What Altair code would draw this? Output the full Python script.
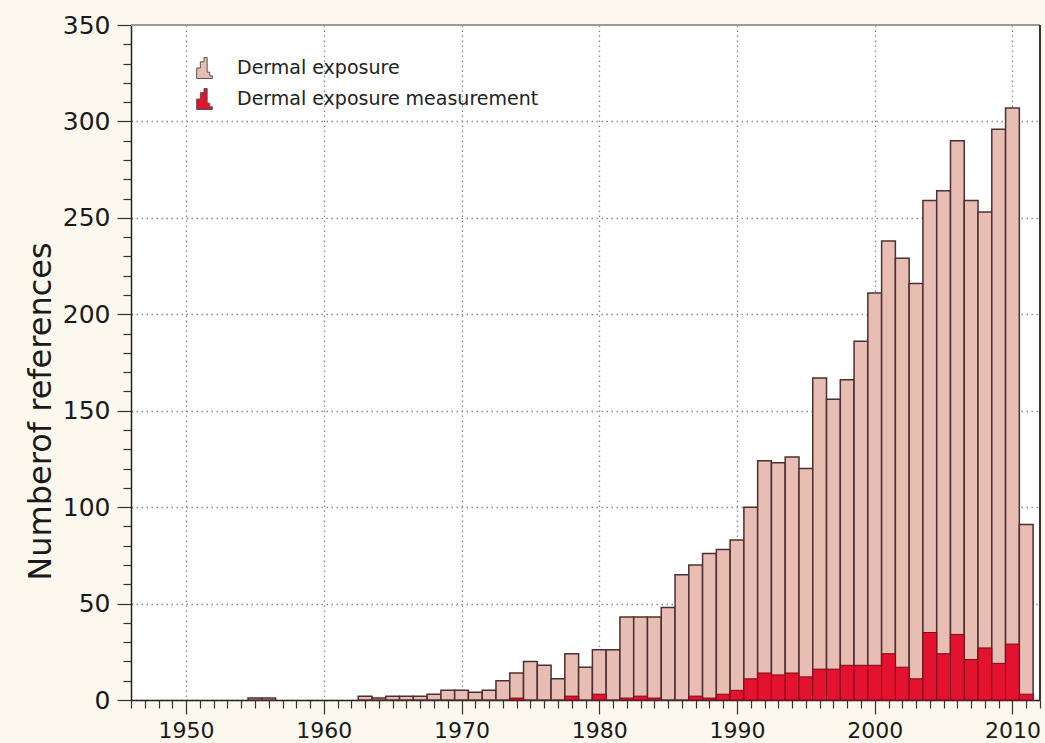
import altair as alt
import pandas as pd

years = list(range(1946, 2012))
total = [0, 0, 0, 0,
         0, 0, 0, 0, 0, 1, 1, 0, 0, 0,
         0, 0, 0, 2, 1, 2, 2, 2, 3, 5,
         5, 4, 5, 10, 14, 20, 18, 11, 24, 17,
         26, 26, 43, 43, 43, 48, 65, 70, 76, 78,
         83, 100, 124, 123, 126, 120, 167, 156, 166, 186,
         211, 238, 229, 216, 259, 264, 290, 259, 253, 296,
         307, 91]
measured = [0, 0, 0, 0,
            0, 0, 0, 0, 0, 0, 0, 0, 0, 0,
            0, 0, 0, 0, 0, 0, 0, 0, 0, 0,
            0, 0, 0, 0, 1, 0, 0, 0, 2, 0,
            3, 0, 1, 2, 1, 0, 0, 2, 1, 3,
            5, 11, 14, 13, 14, 12, 16, 16, 18, 18,
            18, 24, 17, 11, 35, 24, 34, 21, 27, 19,
            29, 3]
series_names = ["Dermal exposure", "Dermal exposure measurement"]
series_colors = ["#e8bdb4", "#e3122e"]
x_ticks = list(range(1946, 2013))
y_ticks = list(range(0, 351, 10))

df = pd.concat([
    pd.DataFrame({"year": years, "count": total, "series": series_names[0]}),
    pd.DataFrame({"year": years, "count": measured, "series": series_names[1]}),
], ignore_index=True)
df = df[df["count"] > 0]

FONT = "DejaVu Sans"

icon = "M-0.7,1V0H-0.35V-0.6H0V-1H0.3V0.4H0.55V0.75H0.8V1Z"

legend = alt.Legend(
    title=None, orient="none", legendX=62, legendY=32,
    symbolType=icon, symbolSize=440, symbolStrokeColor="#555", symbolStrokeWidth=1,
    labelFont=FONT, labelFontSize=19, labelColor="#222", labelOffset=22,
    labelLimit=500, rowPadding=5, symbolOpacity=1,
)

color_scale = alt.Scale(domain=series_names, range=series_colors)

x_axis = alt.Axis(
    values=x_ticks, tickCount=200, title=None, format="d",
    labelExpr="datum.value % 10 === 0 ? datum.label : ''",
    labelOverlap=False, labelFont=FONT, labelFontSize=22, labelColor="#1a1a1a",
    labelBaseline="alphabetic", labelPadding=23,
    tickSize={"condition": {"test": "datum.value % 10 === 0", "value": 14}, "value": 8},
    tickColor="#333", tickWidth=1.2, domainColor="#222", domainWidth=1.5,
    grid=True, gridColor="#8a8a8a", gridDash=[1.5, 3.5], gridWidth=1.3,
    gridOpacity={"condition": {"test": "datum.value % 10 === 0", "value": 1}, "value": 0},
)
y_axis = alt.Axis(
    values=y_ticks, tickCount=200, title="Numberof references",
    labelExpr="datum.value % 50 === 0 ? datum.label : ''",
    labelOverlap=False, labelFont=FONT, labelFontSize=25, labelColor="#1a1a1a",
    labelPadding=7,
    tickSize={"condition": {"test": "datum.value % 50 === 0", "value": 14}, "value": 8},
    tickColor="#333", tickWidth=1.2, domainColor="#222", domainWidth=1.5,
    grid=True, gridColor="#8a8a8a", gridDash=[1.5, 3.5], gridWidth=1.3,
    gridOpacity={"condition": {"test": "datum.value % 50 === 0 && datum.value < 350", "value": 1}, "value": 0},
    titleFont=FONT, titleFontSize=32, titleFontWeight="normal", titleColor="#1a1a1a",
    titleX=-91, titleY=386, titleAngle=270, titleAlign="center", titleBaseline="middle",
)

xs = alt.Scale(domain=[1946, 2012], nice=False, zero=False)
ys = alt.Scale(domain=[0, 350], nice=False)

base = alt.Chart(df).transform_calculate(
    x0="datum.year - 0.5", x1="datum.year + 0.5"
)

pink = base.transform_filter(alt.datum.series == series_names[0]).mark_bar(
    stroke="#4d2f2f", strokeWidth=1.5
).encode(
    x=alt.X("x0:Q", scale=xs, axis=x_axis),
    x2="x1:Q",
    y=alt.Y("count:Q", scale=ys, axis=y_axis, stack=None),
    y2=alt.datum(0),
    color=alt.Color("series:N", scale=color_scale, legend=legend),
)
red = base.transform_filter(alt.datum.series == series_names[1]).mark_bar(
    stroke="#7a0a1a", strokeWidth=1
).encode(
    x=alt.X("x0:Q", scale=xs, axis=x_axis),
    x2="x1:Q",
    y=alt.Y("count:Q", scale=ys, axis=y_axis, stack=None),
    y2=alt.datum(0),
    color=alt.Color("series:N", scale=color_scale, legend=legend),
)

top_border = alt.Chart(pd.DataFrame({"v": [350]})).mark_rule(
    color="#9a9a9a", strokeWidth=2
).encode(y=alt.Y("v:Q", scale=ys, axis=y_axis))
right_border = alt.Chart(pd.DataFrame({"v": [2012]})).mark_rule(
    color="#333", strokeWidth=2
).encode(x=alt.X("v:Q", scale=xs, axis=x_axis))

chart = alt.layer(pink, red, top_border, right_border).properties(
    width=909, height=675,
    autosize=alt.AutoSizeParams(type="none"),
    padding={"left": 131, "top": 25, "right": 5, "bottom": 43},
    background="#fdf8ee",
).configure_view(fill="white", strokeWidth=0)

chart.save("out.html", embed_options={"renderer": "svg", "actions": False})
